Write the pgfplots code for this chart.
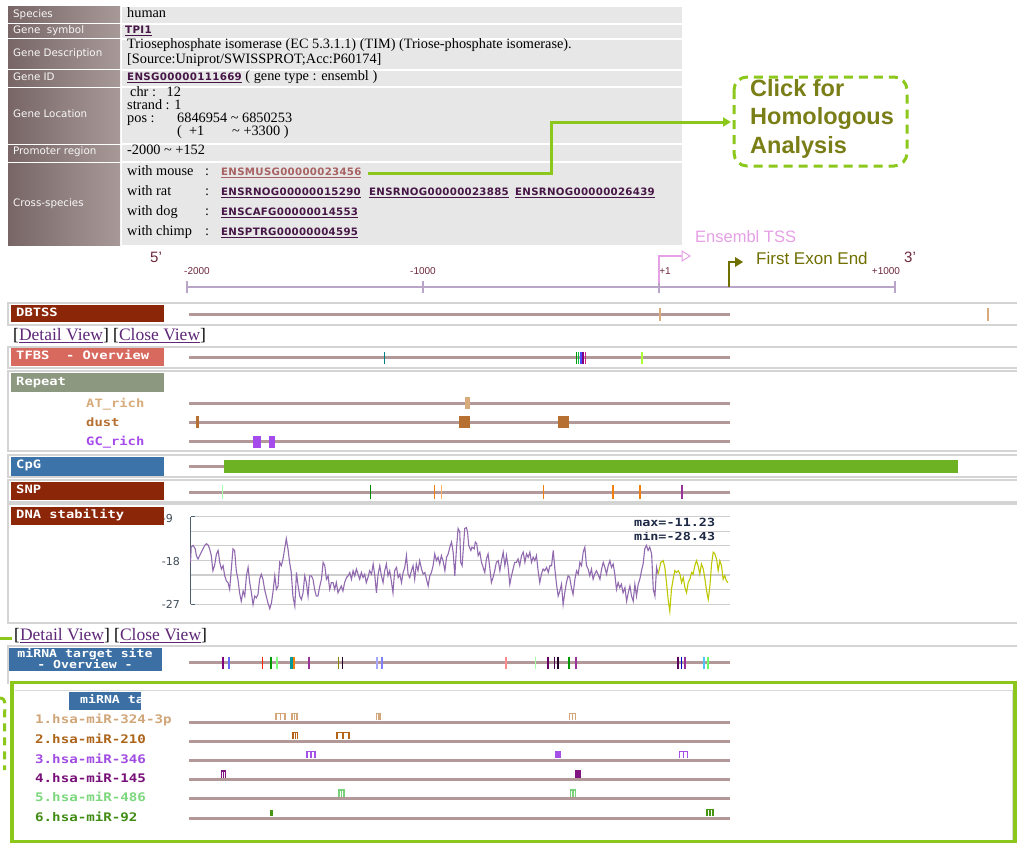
\documentclass[border=0pt]{standalone}
\usepackage{pgfplots}
\pgfplotsset{compat=1.18}
\usepackage{fontspec}
\usetikzlibrary{arrows.meta}
\setmainfont{Liberation Serif}
\newfontfamily\lblfont{DejaVu Sans}
\newfontfamily\lnkfont{DejaVu Sans}[LetterSpace=3]
\newfontfamily\trkfont{DejaVu Sans Mono}[FakeStretch=1.2]
\newfontfamily\arialfont{Liberation Sans}

\definecolor{cellL}{RGB}{120,102,102}
\definecolor{cellR}{RGB}{168,153,153}
\definecolor{cellV}{RGB}{232,231,231}
\definecolor{lnk}{RGB}{70,22,70}
\definecolor{lnkv}{RGB}{168,98,98}
\definecolor{callout}{RGB}{140,200,28}
\definecolor{olivetxt}{RGB}{122,126,22}
\definecolor{tsspink}{RGB}{230,160,230}
\definecolor{exonol}{RGB}{112,112,0}
\definecolor{rulerc}{RGB}{185,165,200}
\definecolor{rulertxt}{RGB}{110,40,60}
\definecolor{trk}{RGB}{178,152,152}
\definecolor{panel}{RGB}{212,212,212}
\definecolor{dbtss}{RGB}{140,38,8}
\definecolor{tfbs}{RGB}{215,105,95}
\definecolor{rep}{RGB}{140,152,128}
\definecolor{cpg}{RGB}{60,115,168}
\definecolor{cpgbar}{RGB}{108,178,35}
\definecolor{dnap}{RGB}{145,105,175}
\definecolor{dnay}{RGB}{190,200,0}
\definecolor{dnaax}{RGB}{80,95,110}
\definecolor{gridc}{RGB}{205,205,205}
\definecolor{mirb}{RGB}{60,112,165}
\definecolor{visit}{RGB}{95,40,120}
\definecolor{attan}{RGB}{215,172,122}
\definecolor{dustc}{RGB}{182,112,50}
\definecolor{gcc}{RGB}{165,75,235}
\definecolor{mA}{RGB}{212,165,120}
\definecolor{mB}{RGB}{180,100,25}
\definecolor{mC}{RGB}{165,80,230}
\definecolor{mD}{RGB}{130,20,130}
\definecolor{mE}{RGB}{120,210,120}
\definecolor{mF}{RGB}{70,150,20}
\definecolor{tA}{RGB}{208,165,120}
\definecolor{tB}{RGB}{172,100,25}
\definecolor{tC}{RGB}{160,75,225}
\definecolor{tD}{RGB}{120,15,120}
\definecolor{tE}{RGB}{125,215,125}
\definecolor{tF}{RGB}{65,140,20}
\definecolor{maxc}{RGB}{30,42,70}

% underline with a visible rule
\newcommand\ul[1]{\setbox0\hbox{#1}\rlap{\vrule height -1.6pt depth 2.7pt width\wd0}\box0}
% vertical feature tick on a track
\newcommand\vt[4]{\addplot[only marks, mark=|, color=#3, mark size=#4, mark options={line width=1.5pt}] coordinates {(#1,#2)};}
% filled feature block
\newcommand\blk[5]{\addplot[fill=#5, draw=none] coordinates {(#1,#2) (#3,#2) (#3,#4) (#1,#4)} --cycle;}
% miRNA binding site glyph
\newcommand\mir[6]{\addplot[color=#6, line width=1.1pt] coordinates {(#1,#5) (#1,#4) (#3,#4) (#3,#5)};
  \addplot[color=#6, line width=1.1pt] coordinates {(#2,#4) (#2,#5)};}
% one row of the information table
\newcommand\trow[2]{\shade[left color=cellL, right color=cellR] (axis cs:8,#1) rectangle (axis cs:120,#2);
  \fill[cellV] (axis cs:122,#1) rectangle (axis cs:682,#2);}
% one track panel frame
\newcommand\pnl[2]{\draw[panel, line width=1.5pt] (axis cs:1022,#1) -- (axis cs:8,#1) -- (axis cs:8,#2) -- (axis cs:1022,#2);}
% ruler tick
\newcommand\rtk[1]{\draw[rulerc, line width=1.3pt] (axis cs:#1,281) -- (axis cs:#1,293);}

\tikzset{tx/.style={anchor=west, inner sep=0pt, text height=.72em, text depth=.22em}}

\begin{document}
\begin{tikzpicture}
\begin{axis}[name=main, scale only axis, width=1017pt, height=843pt,
  xmin=0, xmax=1017, ymin=0, ymax=843, y dir=reverse, hide axis, clip=false]
\addplot[fill=white, draw=none] coordinates {(0,0) (1017,0) (1017,843) (0,843)} --cycle;

% ---------- gene information table ----------
\trow{7}{23} \trow{25}{38} \trow{40}{69} \trow{71}{86} \trow{88}{143} \trow{145}{161} \trow{163}{245}
\begin{scope}[every node/.style={tx, text=white!93!cellR, font=\lblfont\fontsize{10.3}{12}\selectfont}]
\node at (axis cs:13,15) {Species};
\node at (axis cs:13,31) {Gene\ \ symbol};
\node at (axis cs:13,54) {Gene Description};
\node at (axis cs:13,78) {Gene ID};
\node at (axis cs:13,115) {Gene Location};
\node at (axis cs:13,152) {Promoter region};
\node at (axis cs:13,204) {Cross-species};
\end{scope}
\begin{scope}[every node/.style={tx, font=\fontsize{14.3}{16}\selectfont}]
\node at (axis cs:127,15) {human};
\node[text=lnk] at (axis cs:125,31) {\ul{\lnkfont\bfseries\fontsize{10.3}{12}\selectfont TPI1}};
\node at (axis cs:127,46) {Triosephosphate isomerase (EC 5.3.1.1) (TIM) (Triose-phosphate isomerase).};
\node at (axis cs:127,61) {[Source:Uniprot/SWISSPROT;Acc:P60174]};
\node at (axis cs:127,78) {{\color{lnk}\ul{\lnkfont\bfseries\fontsize{10.3}{12}\selectfont ENSG00000111669}}\ ( gene type : ensembl )};
\node at (axis cs:130,94) {chr :\ \ \ 12};
\node at (axis cs:127,107) {strand : 1};
\node at (axis cs:127,120) {pos :};
\node at (axis cs:177,120) {6846954 \textasciitilde\ 6850253};
\node at (axis cs:177,133) {(\ \ +1};
\node at (axis cs:232,133) {\textasciitilde\ +3300 )};
\node at (axis cs:127,152) {-2000 \textasciitilde\ +152};
\node at (axis cs:127,173) {with mouse};
\node at (axis cs:127,193) {with rat};
\node at (axis cs:127,213) {with dog};
\node at (axis cs:127,233) {with chimp};
\node at (axis cs:205,173) {:};
\node at (axis cs:205,193) {:};
\node at (axis cs:205,213) {:};
\node at (axis cs:205,233) {:};
\end{scope}
\begin{scope}[every node/.style={tx, text=lnk, font=\lnkfont\bfseries\fontsize{10.2}{12}\selectfont}]
\node[text=lnkv] at (axis cs:221,173) {\ul{ENSMUSG00000023456}};
\node at (axis cs:221,193) {\ul{ENSRNOG00000015290}};
\node at (axis cs:369,193) {\ul{ENSRNOG00000023885}};
\node at (axis cs:515,193) {\ul{ENSRNOG00000026439}};
\node at (axis cs:221,213) {\ul{ENSCAFG00000014553}};
\node at (axis cs:221,233) {\ul{ENSPTRG00000004595}};
\end{scope}

% ---------- homology call-out ----------
\draw[callout, line width=3pt, -{Triangle[length=8pt,width=9pt]}]
  (axis cs:368,173) -- (axis cs:551,173) -- (axis cs:551,122) -- (axis cs:731,122);
\draw[callout, line width=3pt, dash pattern=on 9pt off 6pt, rounded corners=13pt]
  (axis cs:734,77) rectangle (axis cs:907,166);
\begin{scope}[every node/.style={tx, text=olivetxt, font=\arialfont\bfseries\fontsize{23.5}{26}\selectfont}]
\node at (axis cs:750,94) {Click for};
\node at (axis cs:750,122) {Homologous};
\node at (axis cs:750,151) {Analysis};
\end{scope}

% ---------- coordinate ruler ----------
\node[tx, text=tsspink, font=\arialfont\fontsize{16.5}{18}\selectfont] at (axis cs:695,240) {Ensembl TSS};
\node[tx, text=rulertxt, font=\arialfont\fontsize{15}{16}\selectfont] at (axis cs:150,260) {5’};
\node[tx, text=rulertxt, font=\arialfont\fontsize{15}{16}\selectfont] at (axis cs:904,260) {3’};
\begin{scope}[every node/.style={tx, anchor=center, text=rulertxt, font=\arialfont\fontsize{10}{11}\selectfont}]
\node at (axis cs:197,272) {-2000};
\node at (axis cs:423,272) {-1000};
\node at (axis cs:665,272) {+1};
\node at (axis cs:886,272) {+1000};
\end{scope}
\draw[rulerc, line width=1.5pt] (axis cs:187,287) -- (axis cs:895,287);
\rtk{187} \rtk{423} \rtk{659} \rtk{895}
\draw[tsspink, line width=1.2pt] (axis cs:659,283) -- (axis cs:659,256) -- (axis cs:682,256);
\draw[tsspink, line width=1pt, fill=white] (axis cs:682,251) -- (axis cs:690,256) -- (axis cs:682,261) -- cycle;
\draw[exonol, line width=1.2pt] (axis cs:729,287) -- (axis cs:729,262) -- (axis cs:736,262);
\fill[exonol] (axis cs:735,257) -- (axis cs:743,262) -- (axis cs:735,267) -- cycle;
\node[tx, text=exonol, font=\arialfont\fontsize{17}{18}\selectfont] at (axis cs:756,262) {First Exon End};

% ---------- track panels ----------
\pnl{303}{325} \pnl{347}{368} \pnl{371}{451} \pnl{455}{477} \pnl{480}{502} \pnl{504}{623}
\draw[panel, line width=1.5pt] (axis cs:1022,646) -- (axis cs:8,646) -- (axis cs:8,684);
\begin{scope}[every node/.style={tx, text=white, font=\trkfont\bfseries\fontsize{11.5}{13}\selectfont}]
\fill[dbtss] (axis cs:11,305) rectangle (axis cs:164,322); \node at (axis cs:16,313.5) {DBTSS};
\fill[tfbs] (axis cs:11,348) rectangle (axis cs:164,366); \node at (axis cs:16,356.5) {TFBS\ \ - Overview};
\fill[rep] (axis cs:11,373) rectangle (axis cs:164,392); \node at (axis cs:16,382.5) {Repeat};
\fill[cpg] (axis cs:11,457) rectangle (axis cs:164,476); \node at (axis cs:16,465.5) {CpG};
\fill[dbtss] (axis cs:11,482) rectangle (axis cs:164,500); \node at (axis cs:16,490.5) {SNP};
\end{scope}
\begin{scope}[every node/.style={tx, font=\fontsize{17.5}{19}\selectfont}]
\node at (axis cs:13,338) {[{\color{visit}\ul{Detail View}}] [{\color{visit}\ul{Close View}}]};
\node at (axis cs:14,638) {[{\color{visit}\ul{Detail View}}] [{\color{visit}\ul{Close View}}]};
\end{scope}
\draw[callout, line width=3pt] (axis cs:0,638) -- (axis cs:12,638);

% DBTSS
\addplot[trk, line width=3pt] coordinates {(189,314) (730,314)};
\vt{660}{314.5}{attan}{6.5pt}
\vt{988}{314.5}{attan}{6.5pt}
% TFBS
\addplot[trk, line width=3pt] coordinates {(189,357.5) (730,357.5)};
\vt{384.6}{358}{teal}{6pt}
\vt{576.5}{358}{green!60!black}{6pt}
\vt{578.7}{358}{green!50!teal}{6pt}
\vt{580.9}{358}{blue!70!white}{6pt}
\vt{583.2}{358}{violet}{6pt}
\vt{585.4}{358}{magenta!70!violet}{6pt}
\vt{642}{358}{green!40!yellow!80!white}{6pt}
% Repeat
\begin{scope}[every node/.style={tx, font=\trkfont\bfseries\fontsize{11.5}{13}\selectfont}]
\node[text=attan] at (axis cs:86,404.5) {AT\_rich};
\node[text=dustc] at (axis cs:86,423.5) {dust};
\node[text=gcc] at (axis cs:86,442.5) {GC\_rich};
\end{scope}
\addplot[trk, line width=3pt] coordinates {(189,403) (730,403)};
\addplot[trk, line width=3pt] coordinates {(189,422) (730,422)};
\addplot[trk, line width=3pt] coordinates {(189,441.5) (730,441.5)};
\blk{465}{397}{470}{409}{attan}
\blk{196.3}{416}{199.3}{428}{dustc}
\blk{458.5}{416}{470}{428}{dustc}
\blk{557.7}{416}{568.7}{428}{dustc}
\blk{253}{436}{260.7}{448}{gcc}
\blk{268.5}{436}{275}{448}{gcc}
% CpG
\addplot[trk, line width=3pt] coordinates {(189,466.5) (226,466.5)};
\blk{224}{460}{958}{473}{cpgbar}
% SNP
\addplot[trk, line width=3pt] coordinates {(189,492) (730,492)};
\vt{222.4}{492}{green!35!white}{7pt}
\vt{370.3}{492}{green!55!black}{7pt}
\vt{434.5}{492}{orange!75!brown}{7pt}
\vt{441.6}{492}{orange!60!white}{7pt}
\vt{543.5}{492}{orange!75!brown}{7pt}
\vt{612.8}{492}{orange!75!brown}{7pt}
\vt{640}{492}{orange!75!brown}{7pt}
\vt{682}{492}{violet!80!white}{7pt}

% DNA stability panel
\node[tx, text=dnaax!80!black, font=\lblfont\fontsize{11}{12}\selectfont, anchor=east] at (axis cs:173,519.5) {-9};
\node[tx, text=dnaax!80!black, font=\lblfont\fontsize{11}{12}\selectfont, anchor=east] at (axis cs:180,563) {-18};
\node[tx, text=dnaax!80!black, font=\lblfont\fontsize{11}{12}\selectfont, anchor=east] at (axis cs:180,606) {-27};
\fill[dbtss] (axis cs:11,507) rectangle (axis cs:164,525);
\node[tx, text=white, font=\trkfont\bfseries\fontsize{11.5}{13}\selectfont] at (axis cs:16,515.5) {DNA stability};
\begin{scope}[every node/.style={tx, text=maxc, font=\trkfont\bfseries\fontsize{11.2}{13}\selectfont}]
\node at (axis cs:634,524) {max=-11.23};
\node at (axis cs:634,538) {min=-28.43};
\end{scope}
\coordinate (dnaorig) at (axis cs:190.5,604.3);

% miRNA overview
\fill[mirb] (axis cs:9,648) rectangle (axis cs:162,671);
\begin{scope}[every node/.style={anchor=center, inner sep=0pt, text=white, font=\trkfont\bfseries\fontsize{11}{12}\selectfont}]
\node at (axis cs:85,654.5) {miRNA target site};
\node at (axis cs:85,664) {- Overview -};
\end{scope}
\addplot[trk, line width=3pt] coordinates {(189,662.7) (730,662.7)};
\vt{223}{663}{violet}{6.3pt}
\vt{229}{663}{blue!60!white}{6.3pt}
\vt{262.6}{663}{red!70!orange}{6.3pt}
\vt{271}{663}{green!60!black}{6.3pt}
\vt{277}{663}{green!50!white}{6.3pt}
\vt{290.5}{663}{teal!80!cyan}{6.3pt}
\vt{292}{663}{teal!80!cyan}{6.3pt}
\vt{294}{663}{orange!80!brown}{6.3pt}
\vt{309}{663}{violet!80!white}{6.3pt}
\vt{338.6}{663}{olive}{6.3pt}
\vt{342.5}{663}{black!70!violet}{6.3pt}
\vt{377}{663}{blue!35!white}{6.3pt}
\vt{382}{663}{blue!50!white}{6.3pt}
\vt{506}{663}{red!45!white}{6.3pt}
\vt{535.7}{663}{green!35!white}{6.3pt}
\vt{548}{663}{violet!80!black}{6.3pt}
\vt{554.6}{663}{violet!60!black}{6.3pt}
\vt{558}{663}{black!70!violet}{6.3pt}
\vt{569}{663}{green!60!black}{6.3pt}
\vt{576}{663}{violet!80!white}{6.3pt}
\vt{678}{663}{violet!70!black}{6.3pt}
\vt{681.5}{663}{blue!80!black}{6.3pt}
\vt{685}{663}{violet!80!white}{6.3pt}
\vt{704}{663}{cyan!70!white}{6.3pt}
\vt{708}{663}{green!60!white}{6.3pt}

% miRNA detail box
\draw[gray!30, line width=1pt] (axis cs:15,690) -- (axis cs:1012,690) -- (axis cs:1012,843);
\draw[callout, line width=3.5pt] (axis cs:12,682.5) rectangle (axis cs:1015,841.5);
\draw[callout, line width=3pt, dash pattern=on 8pt off 6pt] (axis cs:0,698) to[out=0,in=90] (axis cs:4.5,716) -- (axis cs:4.5,770);
\fill[mirb] (axis cs:69,692) rectangle (axis cs:141,710);
\begin{scope}
\clip (axis cs:69,692) rectangle (axis cs:141,710);
\node[tx, text=white, font=\trkfont\bfseries\fontsize{11}{12}\selectfont] at (axis cs:80,700.5) {miRNA target site};
\end{scope}
\begin{scope}[every node/.style={tx, font=\trkfont\bfseries\fontsize{11.8}{13}\selectfont}]
\node[text=tA] at (axis cs:35,721) {1.hsa-miR-324-3p};
\node[text=tB] at (axis cs:35,741) {2.hsa-miR-210};
\node[text=tC] at (axis cs:35,760.5) {3.hsa-miR-346};
\node[text=tD] at (axis cs:35,780) {4.hsa-miR-145};
\node[text=tE] at (axis cs:35,799) {5.hsa-miR-486};
\node[text=tF] at (axis cs:35,818.5) {6.hsa-miR-92};
\end{scope}
\addplot[trk, line width=3pt] coordinates {(189,722) (730,722)};
\addplot[trk, line width=3pt] coordinates {(189,741) (730,741)};
\addplot[trk, line width=3pt] coordinates {(189,760.3) (730,760.3)};
\addplot[trk, line width=3pt] coordinates {(189,779.5) (730,779.5)};
\addplot[trk, line width=3pt] coordinates {(189,798.5) (730,798.5)};
\addplot[trk, line width=3pt] coordinates {(189,818) (730,818)};
\mir{276}{280.5}{285}{713.5}{720}{mA}
\mir{292}{294.5}{297}{713.5}{720}{mA}
\mir{376.5}{378.2}{380}{713.5}{720}{mA}
\mir{569.5}{572.5}{575.5}{713.5}{720}{mA}
\mir{293}{295.2}{297.5}{732.5}{739}{mB}
\mir{337}{343}{349}{732.5}{739}{mB}
\mir{307}{311}{315}{751.8}{758.3}{mC}
\mir{556}{558}{560}{751.8}{758.3}{mC}
\mir{679.5}{683.5}{687.5}{751.8}{758.3}{mC}
\mir{221.5}{223.5}{225.5}{771}{777.5}{mD}
\mir{576}{578}{580}{771}{777.5}{mD}
\mir{339}{341.5}{344}{790}{796.5}{mE}
\mir{570.5}{573}{575.5}{790}{796.5}{mE}
\blk{270}{809.5}{273}{816}{mF}
\mir{707}{710}{713}{809.5}{816}{mF}
\end{axis}

% DNA stability curve, in its own axis laid over the panel
\begin{axis}[at={(dnaorig)}, anchor=south west, scale only axis,
  width=539pt, height=87.6pt, xmin=-2000, xmax=284, ymin=-27, ymax=-9,
  axis x line=none, axis y line*=left, ytick={-27,-24,...,-9}, yticklabels={},
  ymajorgrids, grid style={gridc, line width=1.2pt},
  axis line style={dnaax, line width=1.2pt, -}, major tick length=0pt, clip=false]
\draw[dnaax, line width=1.2pt] (axis cs:-2000,-9) -- (axis cs:-1979,-9);
\draw[dnaax, line width=1.2pt] (axis cs:-2000,-27) -- (axis cs:-1979,-27);
\addplot[dnap, line width=1.1pt] coordinates {
(-2000,-18.4) (-1997,-15.25) (-1989,-14.9) (-1980,-15.6) (-1975,-16.99) (-1968,-17.68) (-1961,-16.99) (-1954,-16.29)
(-1947,-15.6) (-1940,-14.9) (-1933,-14.56) (-1926,-14.76) (-1919,-15.6) (-1912,-16.99) (-1905,-20.11) (-1898,-19.07)
(-1890,-16.64) (-1883,-15.94) (-1876,-18.38) (-1869,-19.76) (-1862,-19.07) (-1855,-21.15) (-1848,-22.19) (-1841,-22.54)
(-1834,-23.93) (-1827,-19.76) (-1820,-15.6) (-1813,-15.94) (-1806,-20.11) (-1799,-21.85) (-1792,-24.63) (-1785,-26.36)
(-1777,-24.28) (-1770,-25.32) (-1763,-21.15) (-1756,-19.42) (-1749,-22.54) (-1742,-24.63) (-1735,-27.06) (-1728,-25.32)
(-1721,-25.67) (-1714,-24.97) (-1707,-21.85) (-1700,-20.81) (-1693,-21.85) (-1686,-23.93) (-1679,-25.32) (-1672,-26.71)
(-1664,-27.9) (-1657,-26.71) (-1650,-24.28) (-1643,-21.15) (-1636,-23.93) (-1629,-23.24) (-1622,-18.38) (-1615,-19.07)
(-1608,-17.68) (-1601,-15.6) (-1594,-13.51) (-1587,-15.6) (-1580,-18.38) (-1573,-20.46) (-1566,-25.32) (-1558,-27.4)
(-1551,-20.46) (-1544,-23.24) (-1537,-25.32) (-1530,-26.01) (-1523,-24.63) (-1516,-21.15) (-1509,-22.54) (-1502,-25.32)
(-1495,-21.15) (-1488,-21.15) (-1481,-21.85) (-1474,-23.93) (-1467,-25.32) (-1460,-25.32) (-1452,-23.24) (-1445,-21.85)
(-1438,-18.38) (-1431,-19.07) (-1424,-21.85) (-1417,-21.15) (-1410,-23.93) (-1403,-22.54) (-1396,-22.54) (-1389,-23.93)
(-1382,-22.54) (-1375,-24.63) (-1368,-23.93) (-1361,-23.24) (-1354,-24.28) (-1347,-22.54) (-1339,-21.5) (-1332,-21.15)
(-1325,-20.46) (-1318,-21.85) (-1311,-20.11) (-1304,-21.15) (-1297,-19.76) (-1290,-20.81) (-1283,-21.85) (-1276,-20.46)
(-1269,-21.5) (-1262,-20.81) (-1255,-22.54) (-1248,-21.5) (-1241,-20.11) (-1233,-20.81) (-1226,-18.72) (-1219,-21.15)
(-1212,-24.63) (-1205,-20.81) (-1198,-19.07) (-1191,-21.15) (-1184,-22.54) (-1177,-20.11) (-1170,-18.72) (-1163,-21.15)
(-1156,-20.11) (-1149,-22.19) (-1142,-24.63) (-1135,-20.11) (-1127,-19.42) (-1120,-21.5) (-1113,-20.81) (-1106,-22.54)
(-1099,-20.46) (-1092,-19.42) (-1085,-16.99) (-1078,-20.81) (-1071,-21.5) (-1064,-20.11) (-1057,-19.07) (-1050,-21.85)
(-1043,-18.72) (-1036,-20.11) (-1029,-18.03) (-1021,-19.76) (-1014,-20.81) (-1007,-20.46) (-1000,-21.85) (-993,-23.24)
(-986,-21.15) (-979,-20.46) (-972,-19.07) (-965,-16.64) (-958,-18.03) (-951,-17.33) (-944,-18.72) (-937,-16.99)
(-930,-18.03) (-922,-20.11) (-915,-17.33) (-908,-16.64) (-901,-15.25) (-894,-14.21) (-887,-16.29) (-880,-21.15)
(-873,-15.6) (-866,-11.43) (-859,-12.13) (-855,-18.38) (-849,-19.07) (-845,-16.29) (-838,-11.43) (-831,-11.23)
(-826,-12.13) (-821,-14.9) (-812,-15.94) (-807,-15.25) (-798,-15.6) (-793,-14.21) (-787,-14.56) (-781,-16.99)
(-774,-16.29) (-767,-18.38) (-760,-19.42) (-753,-20.46) (-746,-17.68) (-739,-16.64) (-732,-19.42) (-725,-22.54)
(-718,-21.5) (-711,-20.11) (-704,-18.38) (-696,-18.03) (-689,-20.11) (-682,-18.03) (-675,-16.29) (-668,-19.07)
(-661,-16.99) (-654,-19.42) (-647,-22.89) (-640,-21.15) (-633,-19.76) (-626,-18.38) (-619,-18.38) (-612,-17.68)
(-605,-19.07) (-597,-16.99) (-590,-16.29) (-583,-18.38) (-576,-16.64) (-569,-17.33) (-562,-16.29) (-555,-18.38)
(-548,-17.33) (-541,-18.03) (-534,-16.99) (-527,-20.11) (-520,-22.54) (-513,-20.81) (-506,-19.76) (-499,-20.11)
(-491,-19.42) (-484,-20.46) (-477,-19.07) (-470,-19.07) (-463,-15.94) (-456,-19.76) (-449,-22.89) (-442,-25.32)
(-435,-24.28) (-428,-22.89) (-421,-27.06) (-414,-24.63) (-407,-22.54) (-400,-21.15) (-393,-21.5) (-386,-23.58)
(-379,-24.97) (-371,-21.85) (-364,-20.11) (-357,-20.81) (-350,-18.38) (-343,-19.07) (-336,-16.29) (-329,-15.25)
(-322,-19.07) (-315,-19.76) (-308,-21.15) (-301,-19.76) (-294,-21.85) (-287,-20.81) (-280,-20.11) (-273,-20.81)
(-265,-21.85) (-258,-19.76) (-251,-18.38) (-244,-19.42) (-237,-20.81) (-230,-19.07) (-223,-18.03) (-216,-19.42)
(-209,-18.72) (-202,-20.81) (-195,-23.93) (-188,-22.54) (-181,-23.58) (-174,-22.89) (-167,-24.63) (-159,-23.58)
(-152,-26.36) (-145,-24.63) (-138,-23.24) (-131,-25.32) (-124,-26.36) (-117,-22.89) (-110,-25.32) (-103,-22.89)
(-96,-21.85) (-89,-20.11) (-82,-18.72) (-75,-15.6) (-68,-14.9) (-61,-15.94) (-54,-15.25) (-46,-16.64)
(-39,-23.93) (-32,-25.32) (-25,-19.42) (-18,-20.81)};
\addplot[dnay, line width=1.1pt] coordinates {
(-18,-20.81) (-7,-18.38) (3,-18.03) (10,-19.42) (17,-22.54) (24,-26.01) (31,-28.43) (38,-23.93)
(45,-21.85) (52,-20.11) (59,-20.46) (67,-20.11) (74,-20.81) (81,-22.54) (88,-21.5) (95,-23.58)
(102,-24.63) (109,-22.54) (116,-21.85) (123,-20.46) (130,-20.81) (137,-19.07) (144,-18.03) (151,-19.07)
(158,-20.81) (165,-18.72) (173,-19.76) (180,-21.85) (187,-24.28) (194,-26.01) (201,-23.24) (208,-18.72)
(215,-16.29) (222,-16.64) (229,-17.68) (236,-20.11) (243,-18.03) (250,-19.07) (257,-21.85) (264,-21.15)
(271,-22.19) (278,-22.54)};
\end{axis}
\pgfresetboundingbox
\path[use as bounding box] (main.south west) rectangle (main.north east);
\end{tikzpicture}
\end{document}
